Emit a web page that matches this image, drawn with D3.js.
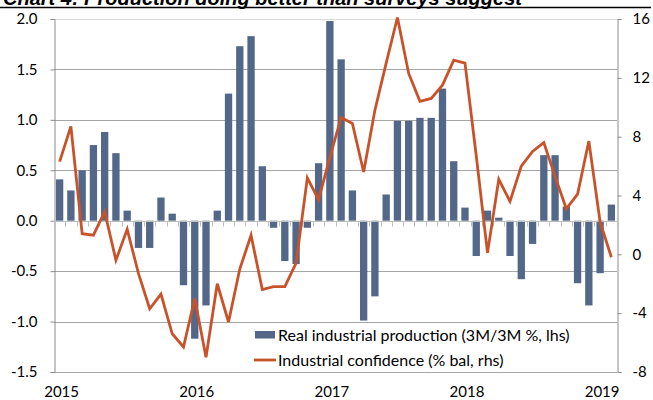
<!DOCTYPE html>
<html>
<head>
<meta charset="utf-8">
<script src="https://cdn.jsdelivr.net/npm/d3@7"></script>
<style>
    body { margin: 0; background: #fff; }
    svg { display: block; }
    text { font-family: Lato, "Open Sans", sans-serif; fill: #000; }
</style>
</head>
<body>
<div id="chart"></div>
<script>
// Chart 4: production vs industrial confidence

// Monthly categories, Jan 2015 .. Feb 2019
const months = d3.timeMonth.range(new Date(2015, 0, 1), new Date(2019, 2, 1));

// Real industrial production (3M/3M %, lhs)
const production = [
    0.41, 0.30, 0.50, 0.75, 0.88, 0.67, 0.10, -0.27, -0.27, 0.23, 0.07, -0.64,
    -1.17, -0.84, 0.10, 1.26, 1.73, 1.83, 0.54, -0.07, -0.40, -0.43, -0.07, 0.57,
    1.98, 1.60, 0.30, -0.99, -0.75, 0.26, 0.99, 0.99, 1.02, 1.02, 1.31, 0.59,
    0.13, -0.35, 0.10, 0.03, -0.35, -0.58, -0.23, 0.65, 0.65, 0.14, -0.62, -0.84,
    -0.52, 0.16
];

// Industrial confidence (% bal, rhs)
const confidence = [
    6.3, 8.7, 1.4, 1.3, 2.9, -0.4, 1.7, -1.3, -3.7, -2.7, -5.4, -6.3,
    -3.0, -7.0, -2.0, -4.6, -1.0, 1.3, -2.4, -2.2, -2.2, -0.6, 5.2, 3.7,
    6.6, 9.3, 8.9, 5.6, 9.8, 13.0, 16.1, 12.3, 10.4, 10.6, 11.5, 13.2,
    13.0, 6.7, 0.1, 5.1, 3.6, 6.0, 7.0, 7.6, 5.3, 3.1, 4.1, 7.7,
    2.2, -0.2
];

const leftTicks = [-1.5, -1.0, -0.5, 0.0, 0.5, 1.0, 1.5, 2.0];
const rightTicks = [-8, -4, 0, 4, 8, 12, 16];
const yearLabels = ['2015', '2016', '2017', '2018', '2019'];
const legendLabels = ['Real industrial production (3M/3M %, lhs)', 'Industrial confidence (% bal, rhs)'];
const title = 'Chart 4: Production doing better than surveys suggest';

const width = 653, height = 400;
const plot = { left: 54, right: 617, top: 19, bottom: 372 };

const barColor = '#536888';
const lineColor = '#c8532b';
const gridColor = '#a6a6a6';
const axisColor = '#8c8c8c';

const svg = d3.select('#chart')
    .append('svg')
    .attr('width', width)
    .attr('height', height);

// Scales
const x = d3.scaleBand()
    .domain(d3.range(months.length))
    .range([plot.left, plot.right])
    .paddingInner(0.35)
    .paddingOuter(0.175);

const yL = d3.scaleLinear()
    .domain([-1.5, 2.0])
    .range([plot.bottom, plot.top]);

const yR = d3.scaleLinear()
    .domain([-8, 16])
    .range([plot.bottom, plot.top]);

// Title (cropped at the top of the picture, as in the source)
svg.append('text')
    .attr('x', 3)
    .attr('y', 5)
    .style('font-family', '"Liberation Sans", Arial, sans-serif')
    .style('font-weight', 'bold')
    .style('font-style', 'italic')
    .style('font-size', '20px')
    .text(title);

svg.append('line')
    .attr('x1', 0).attr('x2', 651)
    .attr('y1', 7.5).attr('y2', 7.5)
    .attr('stroke', '#000')
    .attr('stroke-width', 1.6);

// Gridlines
svg.append('g')
    .selectAll('line')
    .data(leftTicks.filter(d => d !== 0 && d !== -1.5))
    .join('line')
    .attr('x1', plot.left).attr('x2', plot.right)
    .attr('y1', d => Math.round(yL(d)) + 0.5)
    .attr('y2', d => Math.round(yL(d)) + 0.5)
    .attr('stroke', d => d === 2.0 ? '#d9d9d9' : gridColor)
    .attr('stroke-width', 1);

// Bottom border
svg.append('line')
    .attr('x1', plot.left).attr('x2', plot.right)
    .attr('y1', plot.bottom + 0.5).attr('y2', plot.bottom + 0.5)
    .attr('stroke', gridColor);

// Left axis
const leftAxis = svg.append('g')
    .attr('transform', `translate(${plot.left + 0.5},0)`)
    .call(d3.axisLeft(yL).tickValues(leftTicks).tickSize(4).tickPadding(13).tickFormat(d3.format('.1f')));
leftAxis.select('.domain').attr('stroke', axisColor);
leftAxis.selectAll('.tick line').attr('stroke', axisColor);
leftAxis.selectAll('text')
    .style('font-size', '15px')
    .style('font-family', 'Lato, sans-serif')
    .attr('fill', '#000')
    .text(d => d < 0 ? '-' + d3.format('.1f')(-d) : d3.format('.1f')(d));

// Right axis
const rightAxis = svg.append('g')
    .attr('transform', `translate(${plot.right + 0.5},0)`)
    .call(d3.axisRight(yR).tickValues(rightTicks).tickSize(4).tickPadding(11));
rightAxis.select('.domain').attr('stroke', axisColor);
rightAxis.selectAll('.tick line').attr('stroke', axisColor);
rightAxis.selectAll('text')
    .style('font-size', '15px')
    .style('font-family', 'Lato, sans-serif')
    .attr('fill', '#000')
    .text(d => d < 0 ? '-' + (-d) : d);

// Bars
svg.append('g')
    .selectAll('rect')
    .data(production)
    .join('rect')
    .attr('x', (d, i) => x(i))
    .attr('width', x.bandwidth())
    .attr('y', d => yL(Math.max(0, d)))
    .attr('height', d => Math.abs(yL(d) - yL(0)))
    .attr('fill', barColor);

// Zero line with month ticks
const y0 = Math.round(yL(0)) + 0.5;
svg.append('line')
    .attr('x1', plot.left).attr('x2', plot.right)
    .attr('y1', y0).attr('y2', y0)
    .attr('stroke', '#bfbfbf');

svg.append('g')
    .selectAll('line')
    .data(d3.range(months.length + 1))
    .join('line')
    .attr('x1', i => Math.round(plot.left + i * x.step()) + 0.5)
    .attr('x2', i => Math.round(plot.left + i * x.step()) + 0.5)
    .attr('y1', y0)
    .attr('y2', y0 + 5)
    .attr('stroke', '#bfbfbf');

// Year labels under each January
svg.append('g')
    .selectAll('text')
    .data(yearLabels)
    .join('text')
    .attr('x', d => {
        const i = months.findIndex(m => m.getFullYear() === +d && m.getMonth() === 0);
        return x(i) + x.bandwidth() / 2 + 2;
    })
    .attr('y', 397)
    .attr('text-anchor', 'middle')
    .style('font-size', '15px')
    .text(d => d);

// Confidence line
const lineGen = d3.line()
    .x((d, i) => x(i) + x.bandwidth() / 2)
    .y(d => yR(d));

svg.append('path')
    .datum(confidence)
    .attr('fill', 'none')
    .attr('stroke', lineColor)
    .attr('stroke-width', 2.8)
    .attr('stroke-linejoin', 'miter')
    .attr('d', lineGen);

// Legend
const legend = svg.append('g');

legend.append('rect')
    .attr('x', 255).attr('y', 331)
    .attr('width', 20).attr('height', 7.5)
    .attr('fill', barColor);

legend.append('line')
    .attr('x1', 254).attr('x2', 276)
    .attr('y1', 360).attr('y2', 360)
    .attr('stroke', lineColor)
    .attr('stroke-width', 2.8);

legend.selectAll('text')
    .data(legendLabels)
    .join('text')
    .attr('x', 278)
    .attr('y', (d, i) => 340.5 + i * 25.5)
    .style('font-size', '16px')
    .text(d => d);
</script>
</body>
</html>
